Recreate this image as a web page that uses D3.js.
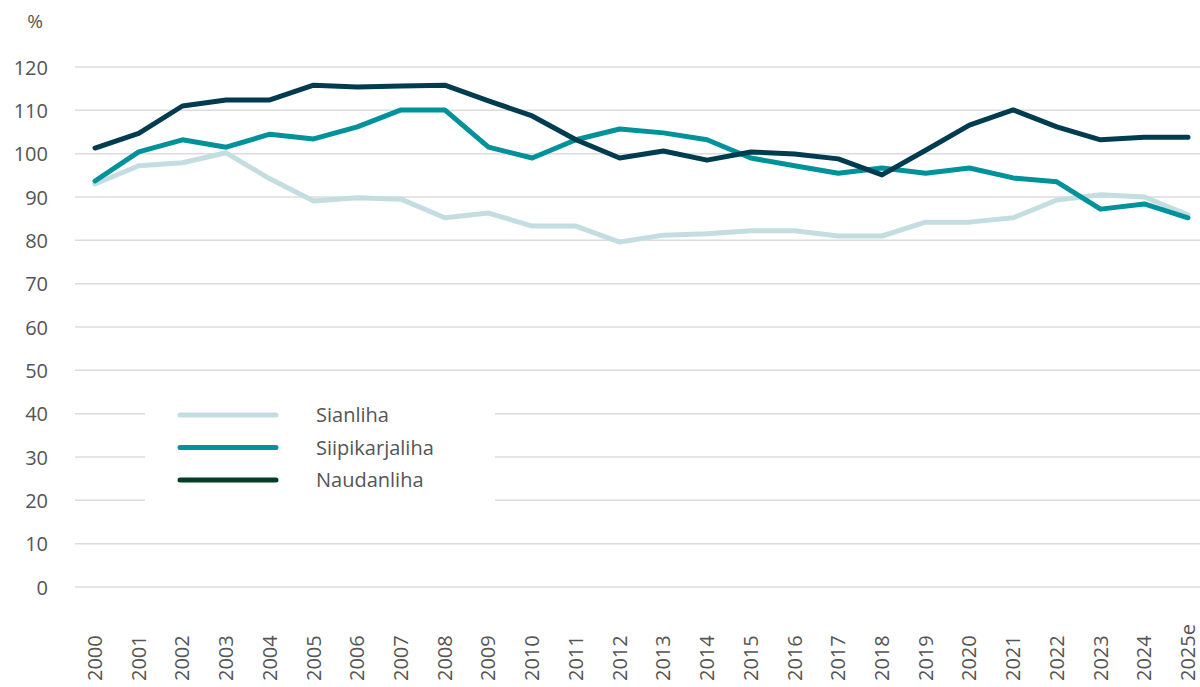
<!DOCTYPE html>
<html>
<head>
<meta charset="utf-8">
<script src="https://cdn.jsdelivr.net/npm/d3@7"></script>
<style>
  body { margin: 0; background: #fff; }
  text { font-family: "Open Sans", sans-serif; fill: #555; }
</style>
</head>
<body>
<script>
var years = ["2000","2001","2002","2003","2004","2005","2006","2007","2008","2009","2010","2011","2012",
             "2013","2014","2015","2016","2017","2018","2019","2020","2021","2022","2023","2024","2025e"];

var sianliha = [93, 97.2, 97.9, 100.2, 94.2, 89.1, 89.8, 89.5, 85.2, 86.3, 83.3, 83.3, 79.6,
                81.2, 81.5, 82.2, 82.2, 81, 81, 84.2, 84.2, 85.2, 89.3, 90.5, 90, 85.9];
var siipikarjaliha = [93.7, 100.4, 103.2, 101.5, 104.5, 103.4, 106.2, 110.1, 110.1, 101.5, 99, 103.2, 105.7,
                      104.8, 103.2, 99, 97.2, 95.5, 96.7, 95.5, 96.7, 94.4, 93.5, 87.2, 88.4, 85.2];
var naudanliha = [101.3, 104.7, 111, 112.4, 112.4, 115.8, 115.4, 115.6, 115.8, 112.2, 108.7, 103.2, 99,
                  100.6, 98.5, 100.4, 99.9, 98.8, 95.1, 100.8, 106.6, 110.1, 106.2, 103.2, 103.8, 103.8];

var yTicks = [0, 10, 20, 30, 40, 50, 60, 70, 80, 90, 100, 110, 120];

var series = [
  {name: "Sianliha", values: sianliha, color: "#c4dde0", key: "#c4dde0"},
  {name: "Siipikarjaliha", values: siipikarjaliha, color: "#00929a", key: "#00929a"},
  {name: "Naudanliha", values: naudanliha, color: "#003c50", key: "#003f26"}
];

var w = 1200, h = 687;

var svg = d3.select("body").append("svg")
    .attr("width", w)
    .attr("height", h);

var x = d3.scalePoint().domain(years).range([95, 1188]);
var y = d3.scaleLinear().domain([0, 120]).range([587, 67]);

// gridlines
svg.append("g").selectAll("line")
    .data(yTicks)
    .enter().append("line")
    .attr("x1", 75).attr("x2", w)
    .attr("y1", function(d) { return y(d); })
    .attr("y2", function(d) { return y(d); })
    .attr("stroke", "#dcdcdc")
    .attr("stroke-width", 1.5);

// y axis labels
var yAxis = d3.axisLeft(y).tickValues(yTicks).tickSize(0).tickPadding(0);
var ya = svg.append("g").attr("transform", "translate(48,0)").call(yAxis);
ya.select(".domain").remove();
ya.selectAll("text").style("font-size", "20px").attr("dy", "0.35em").attr("fill", "#555");

svg.append("text").attr("x", 35).attr("y", 28).attr("text-anchor", "middle")
    .style("font-size", "19px").text("%");

// x axis labels
svg.append("g").selectAll("text")
    .data(years)
    .enter().append("text")
    .attr("transform", function(d) { return "translate(" + (x(d) + 7) + ",681) rotate(-90)"; })
    .style("font-size", "20px")
    .text(function(d) { return d; });

// lines
var line = d3.line()
    .x(function(d, i) { return x(years[i]); })
    .y(function(d) { return y(d); });

svg.append("g").selectAll("path")
    .data(series)
    .enter().append("path")
    .attr("d", function(d) { return line(d.values); })
    .attr("fill", "none")
    .attr("stroke", function(d) { return d.color; })
    .attr("stroke-width", 5)
    .attr("stroke-linejoin", "round")
    .attr("stroke-linecap", "round");

// legend
var lg = svg.append("g");
lg.append("rect").attr("x", 145).attr("y", 396).attr("width", 350).attr("height", 112).attr("fill", "#fff");
var items = lg.selectAll("g.item")
    .data(series)
    .enter().append("g")
    .attr("class", "item")
    .attr("transform", function(d, i) { return "translate(0," + (415 + i * 32.5) + ")"; });
items.append("line")
    .attr("x1", 180).attr("x2", 276)
    .attr("stroke", function(d) { return d.key; })
    .attr("stroke-width", 5)
    .attr("stroke-linecap", "round");
items.append("text")
    .attr("x", 316).attr("dy", "0.35em")
    .style("font-size", "20px")
    .text(function(d) { return d.name; });
</script>
</body>
</html>
